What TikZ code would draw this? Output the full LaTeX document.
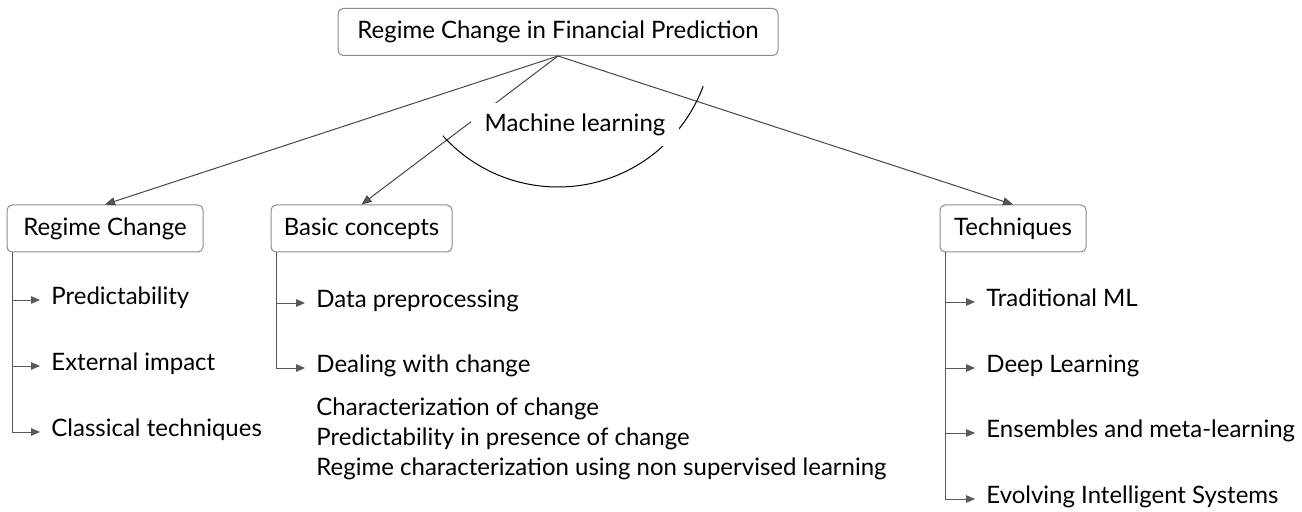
\documentclass[tikz,border=0pt]{standalone}
\usepackage{fontspec}
\setmainfont{Lato}
\usetikzlibrary{arrows.meta}
\begin{document}
\begin{tikzpicture}[x=0.5pt,y=-0.5pt,
  font=\fontsize{12}{14}\selectfont,
  box/.style={draw=black!45, rounded corners=2.5pt, line width=0.5pt, inner sep=0pt, minimum height=23.5pt, fill=white},
  link/.style={draw=black!72, line width=0.5pt, -{Triangle[length=5pt,width=4pt,fill=black!65]}},
  sub/.style={draw=black!65, line width=0.45pt, -{Triangle[length=4.5pt,width=3.8pt,fill=black!65]}},
  leaf/.style={anchor=west, inner ysep=0pt, inner xsep=5.5pt, text height=0.75em, text depth=0.25em},
  mllabel/.style={fill=white, inner sep=0pt, minimum width=104pt, minimum height=21.5pt},
  arcline/.style={draw=black, line width=0.5pt}
]
\useasboundingbox (0,0) rectangle (1302,512);

% boxes
\node[box, minimum width=220pt] (root) at (558,32) {Regime Change in Financial Prediction};
\node[box, minimum width=98pt]  (rc)   at (105,228.5) {Regime Change};
\node[box, minimum width=90.5pt] (bc)  at (361.5,228.5) {Basic concepts};
\node[box, minimum width=73pt]  (tech) at (1013,228.5) {Techniques};

% leaves
\node[leaf] (p1) at (40,300) {Predictability};
\node[leaf] (p2) at (40,366) {External impact};
\node[leaf] (p3) at (40,432) {Classical techniques};

\node[leaf] (b1) at (305,303) {Data preprocessing};
\node[leaf] (b2) at (305,368) {Dealing with change};
\node[anchor=west, inner sep=0pt, align=left, font=\fontsize{12}{15}\selectfont] (b3) at (316,439)
  {Characterization of change\\Predictability in presence of change\\Regime characterization using non supervised learning};

\node[leaf] (t1) at (975,302) {Traditional ML};
\node[leaf] (t2) at (975,368) {Deep Learning};
\node[leaf] (t3) at (975,433) {Ensembles and meta-learning};
\node[leaf] (t4) at (975,499) {Evolving Intelligent Systems};

% main links
\draw[link] (root.south) -- (rc.north);
\draw[link] (root.south) -- (bc.north);
\draw[link] (root.south) -- (tech.north);

% arc
\draw[arcline] (root.center) ++(-138:77.5pt) arc[start angle=-138, end angle=-20.5, radius=77.5pt];

% label covering
\node[mllabel] (ml) at (575,124.5) {Machine learning};

% sub links
\foreach \c in {p1,p2,p3} \draw[sub] ([xshift=2.75pt]rc.south west) |- (\c.west);
\foreach \c in {b1,b2} \draw[sub] ([xshift=3pt]bc.south west) |- (\c.west);
\foreach \c in {t1,t2,t3,t4} \draw[sub] ([xshift=3pt]tech.south west) |- (\c.west);
\end{tikzpicture}
\end{document}
